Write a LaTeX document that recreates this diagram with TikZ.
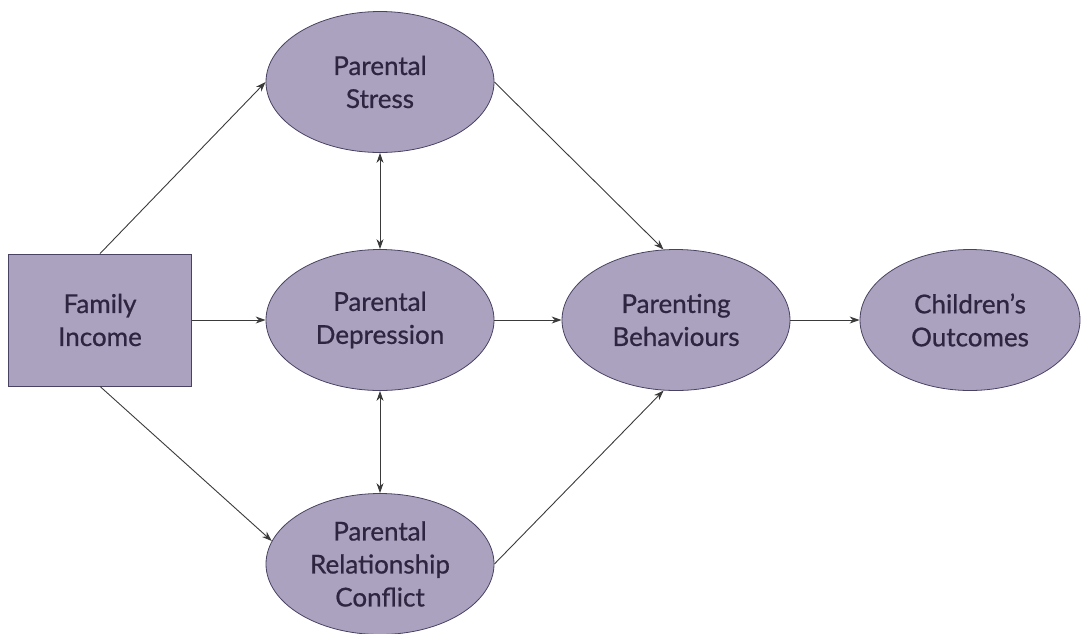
\documentclass[tikz,border=0pt]{standalone}
\usepackage{fontspec}
\setmainfont{Lato}
\newfontfamily\labelfont{Lato}[FakeBold=0.7]
\usetikzlibrary{shapes.geometric,arrows.meta}
\definecolor{boxfill}{HTML}{ABA2BF}
\definecolor{boxline}{HTML}{4A4262}
\definecolor{boxtext}{HTML}{2E2640}
\definecolor{arrowline}{HTML}{3A3A3A}
\begin{document}
\begin{tikzpicture}[x=1pt,y=-1pt,
    factor/.style={ellipse,draw=boxline,fill=boxfill,line width=0.8pt,inner sep=0pt,
        minimum width=228pt,minimum height=141pt,align=center,text=boxtext,
        font=\labelfont\fontsize{26}{33}\selectfont},
    source/.style={rectangle,draw=boxline,fill=boxfill,line width=0.8pt,inner sep=0pt,
        minimum width=183pt,minimum height=132pt,align=center,text=boxtext,
        font=\labelfont\fontsize{26}{33}\selectfont},
    link/.style={arrowline,line width=0.9pt,-{Stealth[length=10pt,width=7pt]}},
    both/.style={arrowline,line width=0.9pt,{Stealth[length=10pt,width=7pt]}-{Stealth[length=10pt,width=7pt]}}]
        %fix the page size
        \useasboundingbox (0,0) rectangle (1081,633);

        %the boxes
        \node[source] (income) at (100,320) {Family\\Income};
        \node[factor] (stress) at (380,82) {Parental\\Stress};
        \node[factor] (depress) at (380,320) {Parental\\Depression};
        \node[factor] (conflict) at (380,564) {Parental\\Relationship\\Conflict};
        \node[factor] (parenting) at (676,320) {Parenting\\Behaviours};
        \node[factor,minimum width=220pt] (outcome) at (970,320) {Children’s\\Outcomes};

        %income to the three parental factors
        \draw[link] (income.north) -- (stress.west);
        \draw[link] (income.east) -- (depress.west);
        \draw[link] (income.south) -- (conflict.168);

        %the two-way links
        \draw[both] (stress.south) -- (depress.north);
        \draw[both] (depress.south) -- (conflict.north);

        %into parenting and out to outcomes
        \draw[link] (stress.east) -- (parenting.100);
        \draw[link] (depress.east) -- (parenting.west);
        \draw[link] (conflict.east) -- (parenting.260);
        \draw[link] (parenting.east) -- (outcome.west);

    \end{tikzpicture}
\end{document}
